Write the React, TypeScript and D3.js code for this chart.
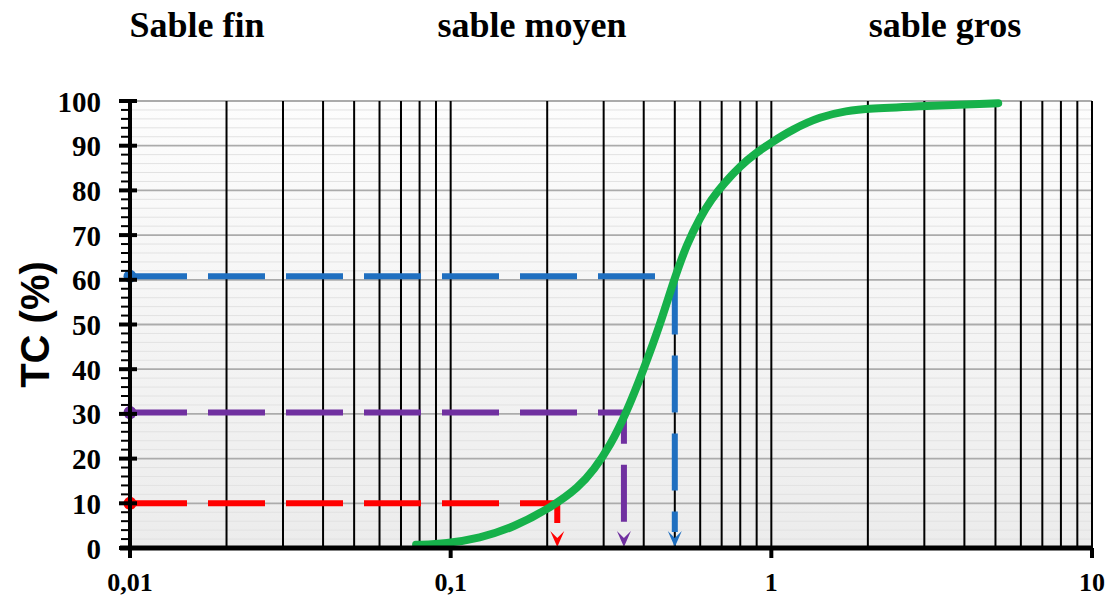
import * as d3 from "d3";

const WIDTH = 1117;
const HEIGHT = 596;
const MARGIN = { top: 101, right: 25, bottom: 48, left: 130 };

// grain size (mm) vs cumulative passing (%)
const SIZES = [0.078, 0.097, 0.123, 0.157, 0.208, 0.25, 0.28, 0.315, 0.352, 0.4, 0.45, 0.497, 0.545, 0.6, 0.65, 0.71, 0.8, 0.9, 1.0, 1.16, 1.42, 1.72, 2.0, 3.0, 5.1];
const PASSING = [0.7, 1.0, 2.2, 4.6, 9.3, 13.5, 17.5, 23, 30, 40, 50, 60, 68, 74, 78, 81.5, 85.5, 88.5, 90.7, 93.6, 96.5, 97.8, 98.3, 98.9, 99.5];

const GUIDE_PCT = [10, 30.3, 60.8];
const GUIDE_D = [0.215, 0.347, 0.5];
const GUIDE_COLORS = ["#ff0000", "#7030a0", "#1f6fc0"];

const ZONES = ["Sable fin", "sable moyen", "sable gros"];
const ZONE_X = [197, 532, 945];

const X_TICKS = [0.01, 0.1, 1, 10];
const X_TICK_LABELS = ["0,01", "0,1", "1", "10"];

const SERIF = "'Times New Roman', 'Liberation Serif', serif";
const SANS = "Arial, 'Liberation Sans', sans-serif";

export default function App() {
  const x = d3.scaleLog().domain([0.01, 10]).range([MARGIN.left, WIDTH - MARGIN.right]);
  const y = d3.scaleLinear().domain([0, 100]).range([HEIGHT - MARGIN.bottom, MARGIN.top]);
  const x0 = MARGIN.left;
  const x1 = WIDTH - MARGIN.right;
  const y0 = y(0);

  const verticals: number[] = [];
  for (let e = -2; e < 1; e++) {
    for (let m = 1; m <= 9; m++) {
      if (e === -2 && m === 1) continue;
      verticals.push(m * Math.pow(10, e));
    }
  }
  verticals.push(10);

  const minorY = d3.range(2, 101, 2).filter((v) => v % 10 !== 0);
  const majorY = d3.range(10, 101, 10);

  const curve = d3
    .line<number>()
    .x((d) => x(d))
    .y((_, i) => y(PASSING[i]))
    .curve(d3.curveBasis)(SIZES) || "";

  return (
    <svg width={WIDTH} height={HEIGHT} style={{ position: "absolute", left: 0, top: 0, background: "#fff" }}>
      <defs>
        <linearGradient id="bg" x1="0" y1="0" x2="0" y2="1">
          <stop offset="0" stopColor="#fdfdfd" />
          <stop offset="1" stopColor="#ececec" />
        </linearGradient>
      </defs>

      {ZONES.map((z, i) => (
        <text key={z} x={ZONE_X[i]} y={37} textAnchor="middle" fontFamily={SERIF} fontWeight="bold" fontSize={36}>
          {z}
        </text>
      ))}

      <rect x={x0} y={y(100)} width={x1 - x0} height={y0 - y(100)} fill="url(#bg)" />

      {minorY.map((v) => (
        <line key={`m${v}`} x1={x0} x2={x1} y1={y(v)} y2={y(v)} stroke="#e2e2e2" strokeWidth={1} />
      ))}
      {majorY.map((v) => (
        <line key={`M${v}`} x1={x0} x2={x1} y1={y(v)} y2={y(v)} stroke="#ababab" strokeWidth={1.8} />
      ))}
      {verticals.map((v) => (
        <line key={`v${v}`} x1={x(v)} x2={x(v)} y1={y(100)} y2={y0} stroke="#000" strokeWidth={2} />
      ))}

      {GUIDE_PCT.map((p, i) => {
        const gx = x(GUIDE_D[i]);
        return (
          <g key={`g${p}`}>
            <path
              d={`M${x0},${y(p)}H${gx}V${y0 - 16}`}
              fill="none"
              stroke={GUIDE_COLORS[i]}
              strokeWidth={6}
              strokeDasharray="57 21"
            />
            <path
              d={`M${gx},${y0 - 1}L${gx - 7},${y0 - 17}L${gx},${y0 - 10}L${gx + 7},${y0 - 17}Z`}
              fill={GUIDE_COLORS[i]}
            />
            <circle cx={x0} cy={y(p)} r={6.5} fill={GUIDE_COLORS[i]} />
          </g>
        );
      })}

      <path d={curve} fill="none" stroke="#16b14a" strokeWidth={8} strokeLinecap="round" />

      {/* y axis */}
      <line x1={x0} x2={x0} y1={y(100) - 2} y2={y0 + 6} stroke="#000" strokeWidth={4} />
      {minorY.map((v) => (
        <line key={`yt${v}`} x1={x0 - 9} x2={x0} y1={y(v)} y2={y(v)} stroke="#000" strokeWidth={2} />
      ))}
      {[0, ...majorY].map((v) => (
        <g key={`yl${v}`}>
          <line x1={x0 - 11} x2={x0 + 7} y1={y(v)} y2={y(v)} stroke="#000" strokeWidth={4} />
          <text x={101} y={y(v) + 10.5} textAnchor="end" fontFamily={SERIF} fontWeight="bold" fontSize={29}>
            {v}
          </text>
        </g>
      ))}

      {/* x axis */}
      <line x1={x0 - 10} x2={x1} y1={y0} y2={y0} stroke="#000" strokeWidth={5} />
      {X_TICKS.map((t, i) => (
        <g key={`xt${t}`}>
          <line x1={x(t)} x2={x(t)} y1={y0} y2={y0 + 10} stroke="#000" strokeWidth={4} />
          <text x={x(t)} y={591} textAnchor="middle" fontFamily={SERIF} fontWeight="bold" fontSize={26}>
            {X_TICK_LABELS[i]}
          </text>
        </g>
      ))}

      <text
        transform={`translate(49 ${(y(100) + y0) / 2}) rotate(-90)`}
        textAnchor="middle"
        fontFamily={SANS}
        fontWeight="bold"
        fontSize={40}
      >
        TC (%)
      </text>
    </svg>
  );
}
